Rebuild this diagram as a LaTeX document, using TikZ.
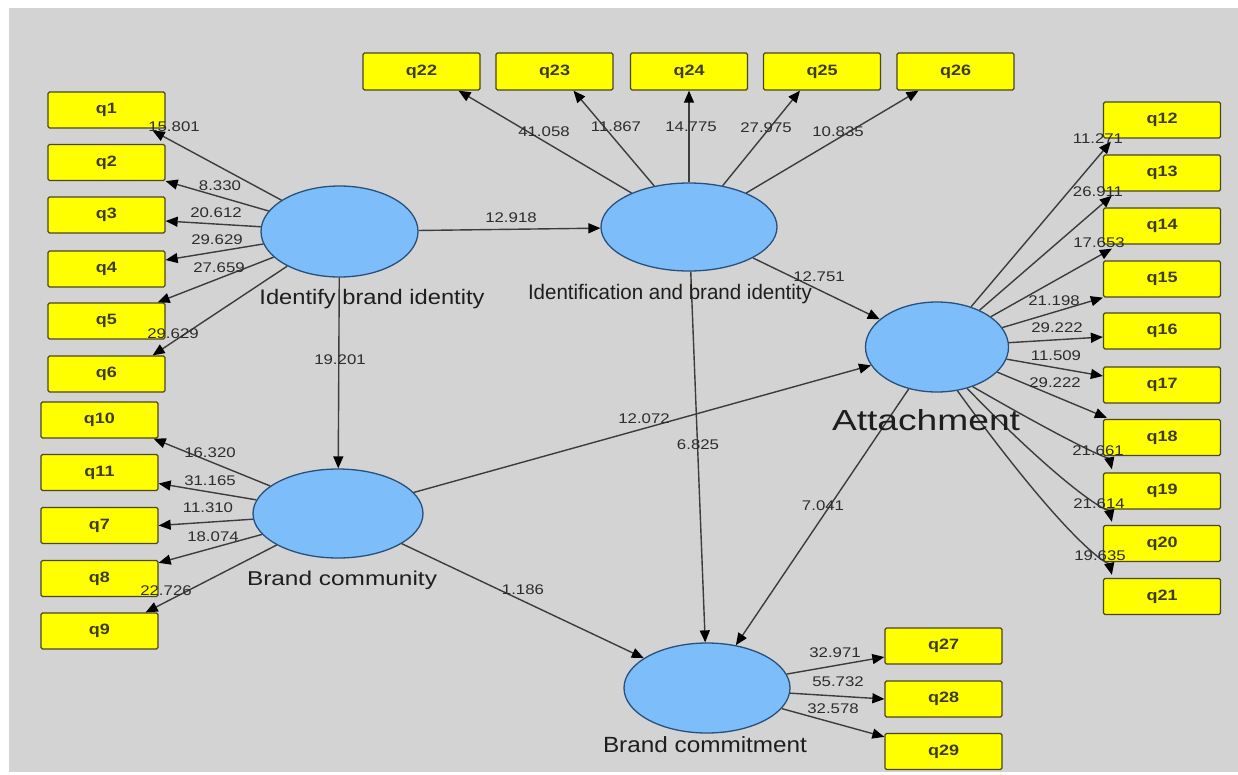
\documentclass[tikz,border=0pt]{standalone}
\usepackage{fontspec}
\setmainfont{Liberation Sans}
\usetikzlibrary{arrows.meta,calc,shapes.geometric}
\definecolor{bggray}{RGB}{211,211,211}
\definecolor{ellfill}{RGB}{125,190,250}
\definecolor{elldraw}{RGB}{40,80,125}
\definecolor{boxfill}{RGB}{255,255,0}
\definecolor{boxdraw}{RGB}{75,70,35}
\definecolor{boxtext}{RGB}{60,60,35}
\definecolor{linecol}{RGB}{60,60,60}
\definecolor{numcol}{RGB}{45,45,45}
\definecolor{namecol}{RGB}{30,30,30}
\newcommand\fitw[2]{\resizebox{#1pt}{\height}{#2}}
\newcommand\numtxt[1]{\scalebox{1.2}[1]{#1}}
\newcommand\boxtxt[1]{\scalebox{1.2}[1]{#1}}
\begin{document}
\begin{tikzpicture}[x=1pt,y=-1pt,
  latent/.style={ellipse, draw=elldraw, line width=1.3pt, fill=ellfill, inner sep=0pt},
  ind/.style={rectangle, draw=boxdraw, line width=1.3pt, fill=boxfill, rounded corners=1.5pt,
    minimum width=117pt, minimum height=36pt, inner sep=0pt,
    font=\fontsize{15}{15}\selectfont\bfseries, text=boxtext},
  conn/.style={draw=linecol, line width=1.4pt, -{Triangle[length=12pt,width=10pt,color=black]}},
  num/.style={font=\fontsize{14}{14}\selectfont, text=numcol, inner sep=0pt},
  lname/.style={text=namecol, inner sep=0pt}]
\useasboundingbox (0,0) rectangle (1238,774);
\fill[bggray] (9,8) rectangle (1238,772);

% latent variables
\node[latent, minimum width=157pt, minimum height=91pt] (E1) at (339.5,231.5) {};
\node[latent, minimum width=176pt, minimum height=88pt] (E2) at (689,227) {};
\node[latent, minimum width=143pt, minimum height=90pt] (E3) at (937,347) {};
\node[latent, minimum width=170pt, minimum height=89pt] (E4) at (338,513.5) {};
\node[latent, minimum width=166pt, minimum height=90pt] (E5) at (707,688) {};

% indicators left column A
\node[ind] (q1) at (106.5,110) {\boxtxt{q1}};
\node[ind] (q2) at (106.5,162.5) {\boxtxt{q2}};
\node[ind] (q3) at (106.5,215) {\boxtxt{q3}};
\node[ind] (q4) at (106.5,269) {\boxtxt{q4}};
\node[ind] (q5) at (106.5,321) {\boxtxt{q5}};
\node[ind] (q6) at (106.5,374) {\boxtxt{q6}};
% left column B
\node[ind] (q10) at (99.5,420) {\boxtxt{q10}};
\node[ind] (q11) at (99.5,472.5) {\boxtxt{q11}};
\node[ind] (q7) at (99.5,525.5) {\boxtxt{q7}};
\node[ind] (q8) at (99.5,578.5) {\boxtxt{q8}};
\node[ind] (q9) at (99.5,631) {\boxtxt{q9}};
% top row
\node[ind, minimum height=37pt] (q22) at (421.5,71.5) {\boxtxt{q22}};
\node[ind, minimum height=37pt] (q23) at (554.5,71.5) {\boxtxt{q23}};
\node[ind, minimum height=37pt] (q24) at (689,71.5) {\boxtxt{q24}};
\node[ind, minimum height=37pt] (q25) at (822,71.5) {\boxtxt{q25}};
\node[ind, minimum height=37pt] (q26) at (955.5,71.5) {\boxtxt{q26}};
% right column
\node[ind] (q12) at (1162,120) {\boxtxt{q12}};
\node[ind] (q13) at (1162,173) {\boxtxt{q13}};
\node[ind] (q14) at (1162,226) {\boxtxt{q14}};
\node[ind] (q15) at (1162,279) {\boxtxt{q15}};
\node[ind] (q16) at (1162,331) {\boxtxt{q16}};
\node[ind] (q17) at (1162,385) {\boxtxt{q17}};
\node[ind] (q18) at (1162,437.5) {\boxtxt{q18}};
\node[ind] (q19) at (1162,491) {\boxtxt{q19}};
\node[ind] (q20) at (1162,543.5) {\boxtxt{q20}};
\node[ind] (q21) at (1162,596.5) {\boxtxt{q21}};
% bottom
\node[ind] (q27) at (943.5,646) {\boxtxt{q27}};
\node[ind] (q28) at (943.5,699) {\boxtxt{q28}};
\node[ind] (q29) at (943.5,751.5) {\boxtxt{q29}};

% E1 outer loadings
\draw[conn] (E1) -- ($(q1.south east)+(-13,2)$);
\draw[conn] (E1) -- (q2.south east);
\draw[conn] (E1) -- ($(q3.east)+(0,6)$);
\draw[conn] (E1) -- ($(q4.east)+(0,-9)$);
\draw[conn] (E1) -- ($(q5.north east)+(-8,0)$);
\draw[conn] (E1) -- ($(q6.north east)+(-13,0)$);
% E4 outer loadings
\draw[conn] (E4) -- ($(q10.south east)+(-5,0)$);
\draw[conn] (E4) -- ($(q11.east)+(0,11)$);
\draw[conn] (E4) -- (q7.east);
\draw[conn] (E4) -- ($(q8.north east)+(0,3)$);
\draw[conn] (E4) -- ($(q9.north east)+(-13,0)$);
% E2 outer loadings
\draw[conn] (E2) -- ($(q22.south)+(37,0)$);
\draw[conn] (E2) -- ($(q23.south)+(19,0)$);
\draw[conn] (E2) -- (q24.south);
\draw[conn] (E2) -- ($(q25.south)+(-22,0)$);
\draw[conn] (E2) -- ($(q26.south)+(-37,0)$);
% E3 outer loadings
\draw[conn] (E3) -- ($(q12.south west)+(8,3)$);
\draw[conn] (E3) -- ($(q13.south west)+(9,4)$);
\draw[conn] (E3) -- ($(q14.south west)+(9,4)$);
\draw[conn] (E3) -- (q15.south west);
\draw[conn] (E3) -- ($(q16.west)+(0,6)$);
\draw[conn] (E3) -- ($(q17.west)+(0,-9)$);
\draw[conn] (E3) -- ($(q18.north west)+(4,-1)$);
\draw[conn] (E3.-48) .. controls ($(q19.north west)+(-30,-28)$) and ($(q19.north west)+(7,-12)$) .. ($(q19.north west)+(9,-3)$);
\draw[conn] (E3.-54) .. controls ($(q20.north west)+(-30,-28)$) and ($(q20.north west)+(7,-12)$) .. ($(q20.north west)+(9,-3)$);
\draw[conn] (E3.-65) .. controls ($(q21.north west)+(-30,-28)$) and ($(q21.north west)+(7,-12)$) .. ($(q21.north west)+(9,-3)$);
% E5 outer loadings
\draw[conn] (E5) -- ($(q27.west)+(0,11)$);
\draw[conn] (E5) -- (q28.west);
\draw[conn] (E5) -- ($(q29.north west)+(0,4)$);
% structural paths
\draw[conn] (E1) -- (E2);
\draw[conn] (E1) -- (E4);
\draw[conn] (E2) -- (E3);
\draw[conn] (E4) -- (E3);
\draw[conn] (E2) -- (E5);
\draw[conn] (E3) -- (E5);
\draw[conn] (E4) -- (E5);

% latent names
\node[lname, font=\fontsize{21}{21}\selectfont] (n1) at (372,299) {\fitw{225}{Identify brand identity}};
\node[lname, font=\fontsize{21}{21}\selectfont] (n2) at (670,294) {\fitw{284}{Identification and brand identity}};
\node[lname, font=\fontsize{29}{29}\selectfont] (n3) at (926,420) {\fitw{188}{Attachment}};
\node[lname, font=\fontsize{20}{20}\selectfont] (n4) at (342,580) {\fitw{190}{Brand community}};
\node[lname, font=\fontsize{22}{22}\selectfont] (n5) at (705,745) {\fitw{204}{Brand commitment}};

% numbers E1
\node[num] (l1) at (174,127) {\numtxt{15.801}};
\node[num] (l2) at (220,186) {\numtxt{8.330}};
\node[num] (l3) at (216,213) {\numtxt{20.612}};
\node[num] (l4) at (217,240) {\numtxt{29.629}};
\node[num] (l5) at (219,268) {\numtxt{27.659}};
\node[num] (l6) at (173,334) {\numtxt{29.629}};
% numbers E4
\node[num] (l7) at (210,453) {\numtxt{16.320}};
\node[num] (l8) at (210,481) {\numtxt{31.165}};
\node[num] (l9) at (208,508) {\numtxt{11.310}};
\node[num] (l10) at (213,537) {\numtxt{18.074}};
\node[num] (l11) at (166,591) {\numtxt{22.726}};
% numbers E2
\node[num] (l12) at (544,132) {\numtxt{41.058}};
\node[num] (l13) at (616,127) {\numtxt{11.867}};
\node[num] (l14) at (691,127) {\numtxt{14.775}};
\node[num] (l15) at (766,128) {\numtxt{27.975}};
\node[num] (l16) at (838,132) {\numtxt{10.835}};
% numbers E3
\node[num] (l17) at (1098,139) {\numtxt{11.271}};
\node[num] (l18) at (1098,192) {\numtxt{26.911}};
\node[num] (l19) at (1099,243) {\numtxt{17.653}};
\node[num] (l20) at (1054,301) {\numtxt{21.198}};
\node[num] (l21) at (1057,328) {\numtxt{29.222}};
\node[num] (l22) at (1056,356) {\numtxt{11.509}};
\node[num] (l23) at (1055,383) {\numtxt{29.222}};
\node[num] (l24) at (1098,451) {\numtxt{21.661}};
\node[num] (l25) at (1099,504) {\numtxt{21.614}};
\node[num] (l26) at (1100,556) {\numtxt{19.635}};
% numbers E5
\node[num] (l27) at (835,653) {\numtxt{32.971}};
\node[num] (l28) at (838,682) {\numtxt{55.732}};
\node[num] (l29) at (833,709) {\numtxt{32.578}};
% structural numbers
\node[num] (s1) at (511,218) {\numtxt{12.918}};
\node[num] (s2) at (340,360) {\numtxt{19.201}};
\node[num] (s3) at (819,277) {\numtxt{12.751}};
\node[num] (s4) at (644,419) {\numtxt{12.072}};
\node[num] (s5) at (698,445) {\numtxt{6.825}};
\node[num] (s6) at (823,506) {\numtxt{7.041}};
\node[num] (s7) at (523,590) {\numtxt{1.186}};
\end{tikzpicture}
\end{document}
